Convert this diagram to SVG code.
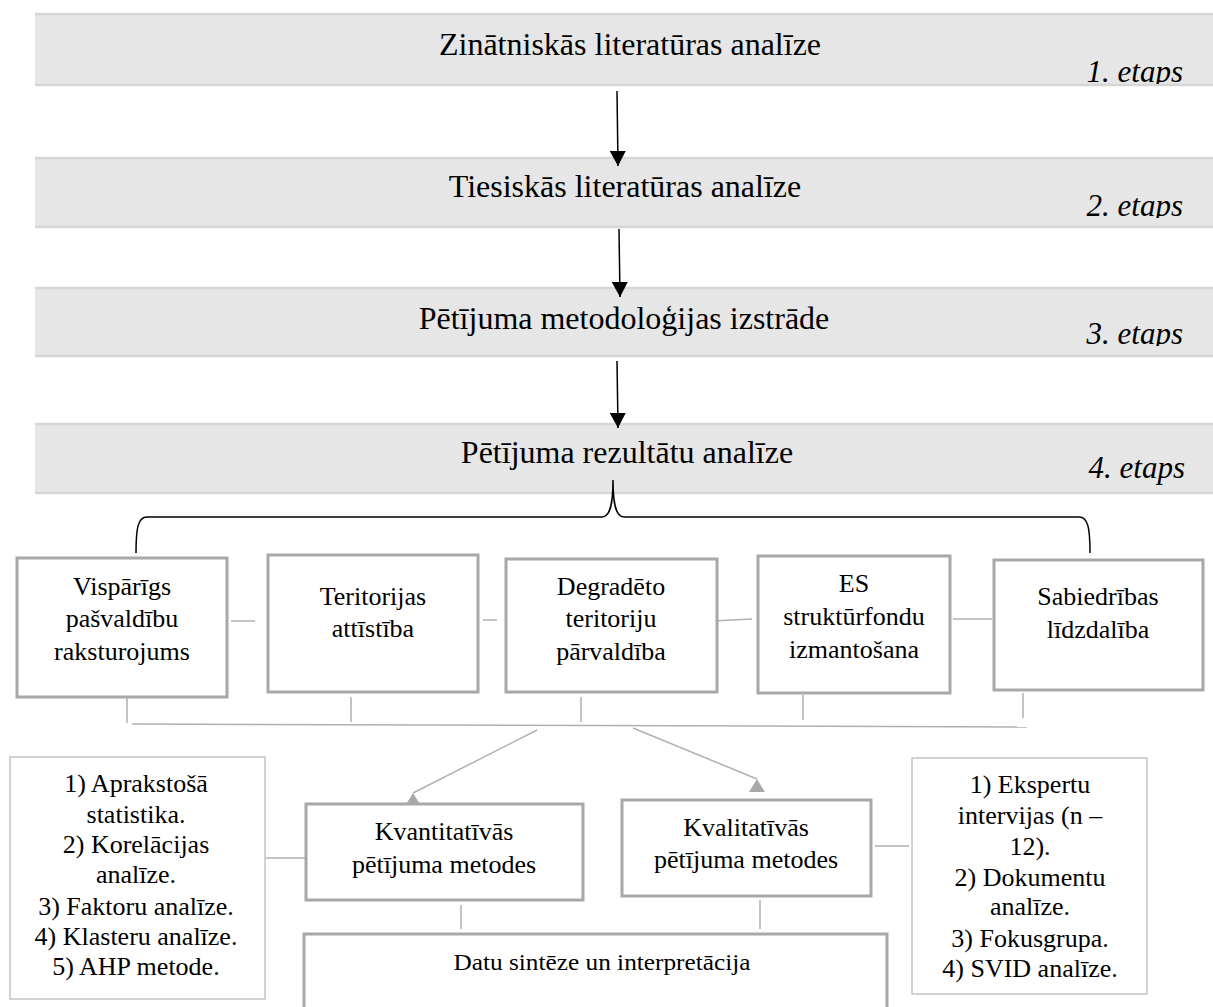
<svg xmlns="http://www.w3.org/2000/svg" width="1213" height="1007" viewBox="0 0 1213 1007">
<style>
.title{font-size:32px}
.etap{font-size:31px;font-style:italic;text-anchor:end}
.bx{font-size:26px}
.band{fill:#e6e6e6}
.bedge{stroke:#d6d6d6;stroke-width:2.5;fill:none}
.box{fill:#fff;stroke:#a8a8a8;stroke-width:3}
.lbox{fill:#fff;stroke:#c4c4c4;stroke-width:1.5}
.gl{stroke:#b0b0b0;stroke-width:1.5;fill:none}
.bl{stroke:#000;stroke-width:1.5;fill:none}
</style>
<defs>
<marker id="ab" viewBox="0 0 15 16" refX="15" refY="8" markerWidth="15" markerHeight="16" markerUnits="userSpaceOnUse" orient="auto">
<path d="M0,0 L15,8 L0,16 z" fill="#000"/>
</marker>
<marker id="ag" viewBox="0 0 16 13" refX="8" refY="0" markerWidth="16" markerHeight="13" markerUnits="userSpaceOnUse" orient="0">
<path d="M8,0 L16,13 L0,13 z" fill="#a8a8a8"/>
</marker>
<clipPath id="c1"><rect x="900" y="0" width="313" height="84"/></clipPath>
<clipPath id="c2"><rect x="900" y="140" width="313" height="78"/></clipPath>
<clipPath id="c3"><rect x="900" y="270" width="313" height="76"/></clipPath>
</defs>

<g font-family="Liberation Serif, Times New Roman, serif" text-anchor="middle" fill="#000">
<g id="stage1">
<rect class="band" x="35" y="13" width="1178" height="73"/>
<path class="bedge" d="M35,14 H1213 M35,85 H1213"/>
<text class="title" x="630" y="55">Zinātniskās literatūras analīze</text>
<text class="etap" x="1183" y="82" clip-path="url(#c1)">1. etaps</text>
</g>
<g id="stage2">
<rect class="band" x="35" y="157" width="1178" height="71"/>
<path class="bedge" d="M35,158 H1213 M35,227 H1213"/>
<text class="title" x="625" y="197">Tiesiskās literatūras analīze</text>
<text class="etap" x="1183" y="216" clip-path="url(#c2)">2. etaps</text>
</g>
<g id="stage3">
<rect class="band" x="35" y="287" width="1178" height="70"/>
<path class="bedge" d="M35,288 H1213 M35,356 H1213"/>
<text class="title" x="624" y="329">Pētījuma metodoloģijas izstrāde</text>
<text class="etap" x="1183" y="344" clip-path="url(#c3)">3. etaps</text>
</g>
<g id="stage4">
<rect class="band" x="35" y="423" width="1178" height="71"/>
<path class="bedge" d="M35,424 H1213 M35,493 H1213"/>
<text class="title" x="627" y="463">Pētījuma rezultātu analīze</text>
<text class="etap" x="1185" y="478">4. etaps</text>
</g>

<g id="connectors">
<line class="bl" x1="617" y1="91" x2="618" y2="166" marker-end="url(#ab)"/>
<line class="bl" x1="619" y1="229" x2="620" y2="297" marker-end="url(#ab)"/>
<line class="bl" x1="617" y1="361" x2="618" y2="428" marker-end="url(#ab)"/>
<path class="bl" d="M136,553 C136,528 138,517 147,517 L602,517 C610,517 613,505 613,480 C613,505 616,517 624,517 L1079,517 C1088,517 1090,528 1090,553"/>
<line class="gl" x1="231" y1="621" x2="255" y2="621"/>
<line class="gl" x1="483" y1="620" x2="497" y2="620"/>
<line class="gl" x1="713" y1="621" x2="752" y2="619"/>
<line class="gl" x1="953" y1="619" x2="992" y2="619"/>
<line class="gl" x1="127" y1="698" x2="127" y2="723"/>
<line class="gl" x1="351" y1="697" x2="351" y2="722"/>
<line class="gl" x1="581" y1="697" x2="581" y2="722"/>
<line class="gl" x1="803" y1="695" x2="803" y2="720"/>
<line class="gl" x1="1023" y1="693" x2="1023" y2="718"/>
<line class="gl" x1="132" y1="724" x2="1027" y2="727"/>
<line class="gl" x1="537" y1="730" x2="413" y2="793" marker-end="url(#ag)"/>
<line class="gl" x1="633" y1="728" x2="757" y2="779" marker-end="url(#ag)"/>
<line class="gl" x1="261" y1="858" x2="306" y2="858"/>
<line class="gl" x1="875" y1="846" x2="909" y2="846"/>
<line class="gl" x1="461" y1="905" x2="461" y2="929"/>
<line class="gl" x1="760" y1="900" x2="760" y2="929"/>
</g>

<g id="box1">
<rect class="box" x="17" y="558" width="210" height="139"/>
<text class="bx" x="122" y="595">Vispārīgs</text>
<text class="bx" x="122" y="627">pašvaldību</text>
<text class="bx" x="122" y="660">raksturojums</text>
</g>
<g id="box2">
<rect class="box" x="268" y="555" width="210" height="137"/>
<text class="bx" x="373" y="605">Teritorijas</text>
<text class="bx" x="373" y="637">attīstība</text>
</g>
<g id="box3">
<rect class="box" x="506" y="559" width="211" height="133"/>
<text class="bx" x="611" y="595">Degradēto</text>
<text class="bx" x="611" y="627">teritoriju</text>
<text class="bx" x="611" y="660">pārvaldība</text>
</g>
<g id="box4">
<rect class="box" x="758" y="556" width="192" height="137"/>
<text class="bx" x="854" y="592">ES</text>
<text class="bx" x="854" y="625">struktūrfondu</text>
<text class="bx" x="854" y="658">izmantošana</text>
</g>
<g id="box5">
<rect class="box" x="994" y="560" width="209" height="130"/>
<text class="bx" x="1098" y="605">Sabiedrības</text>
<text class="bx" x="1098" y="638">līdzdalība</text>
</g>

<g id="quantList">
<rect class="lbox" x="10" y="757" width="255" height="242"/>
<text class="bx" x="136" y="792">1) Aprakstošā</text>
<text class="bx" x="136" y="823">statistika.</text>
<text class="bx" x="136" y="853">2) Korelācijas</text>
<text class="bx" x="136" y="883">analīze.</text>
<text class="bx" x="136" y="915">3) Faktoru analīze.</text>
<text class="bx" x="136" y="945">4) Klasteru analīze.</text>
<text class="bx" x="136" y="975">5) AHP metode.</text>
</g>
<g id="quant">
<rect class="box" x="306" y="804" width="277" height="96"/>
<text class="bx" x="444" y="840">Kvantitatīvās</text>
<text class="bx" x="444" y="873">pētījuma metodes</text>
</g>
<g id="qual">
<rect class="box" x="622" y="800" width="249" height="96"/>
<text class="bx" x="746" y="836">Kvalitatīvās</text>
<text class="bx" x="746" y="868">pētījuma metodes</text>
</g>
<g id="qualList">
<rect class="lbox" x="912" y="758" width="235" height="236"/>
<text class="bx" x="1030" y="793">1) Ekspertu</text>
<text class="bx" x="1030" y="824">intervijas (n –</text>
<text class="bx" x="1030" y="855">12).</text>
<text class="bx" x="1030" y="886">2) Dokumentu</text>
<text class="bx" x="1030" y="915">analīze.</text>
<text class="bx" x="1030" y="947">3) Fokusgrupa.</text>
<text class="bx" x="1030" y="977">4) SVID analīze.</text>
</g>
<g id="synthesis">
<rect class="box" x="304" y="934" width="583" height="90"/>
<text x="602" y="970" font-size="23" textLength="297" lengthAdjust="spacingAndGlyphs">Datu sintēze un interpretācija</text>
</g>
</g>
</svg>
